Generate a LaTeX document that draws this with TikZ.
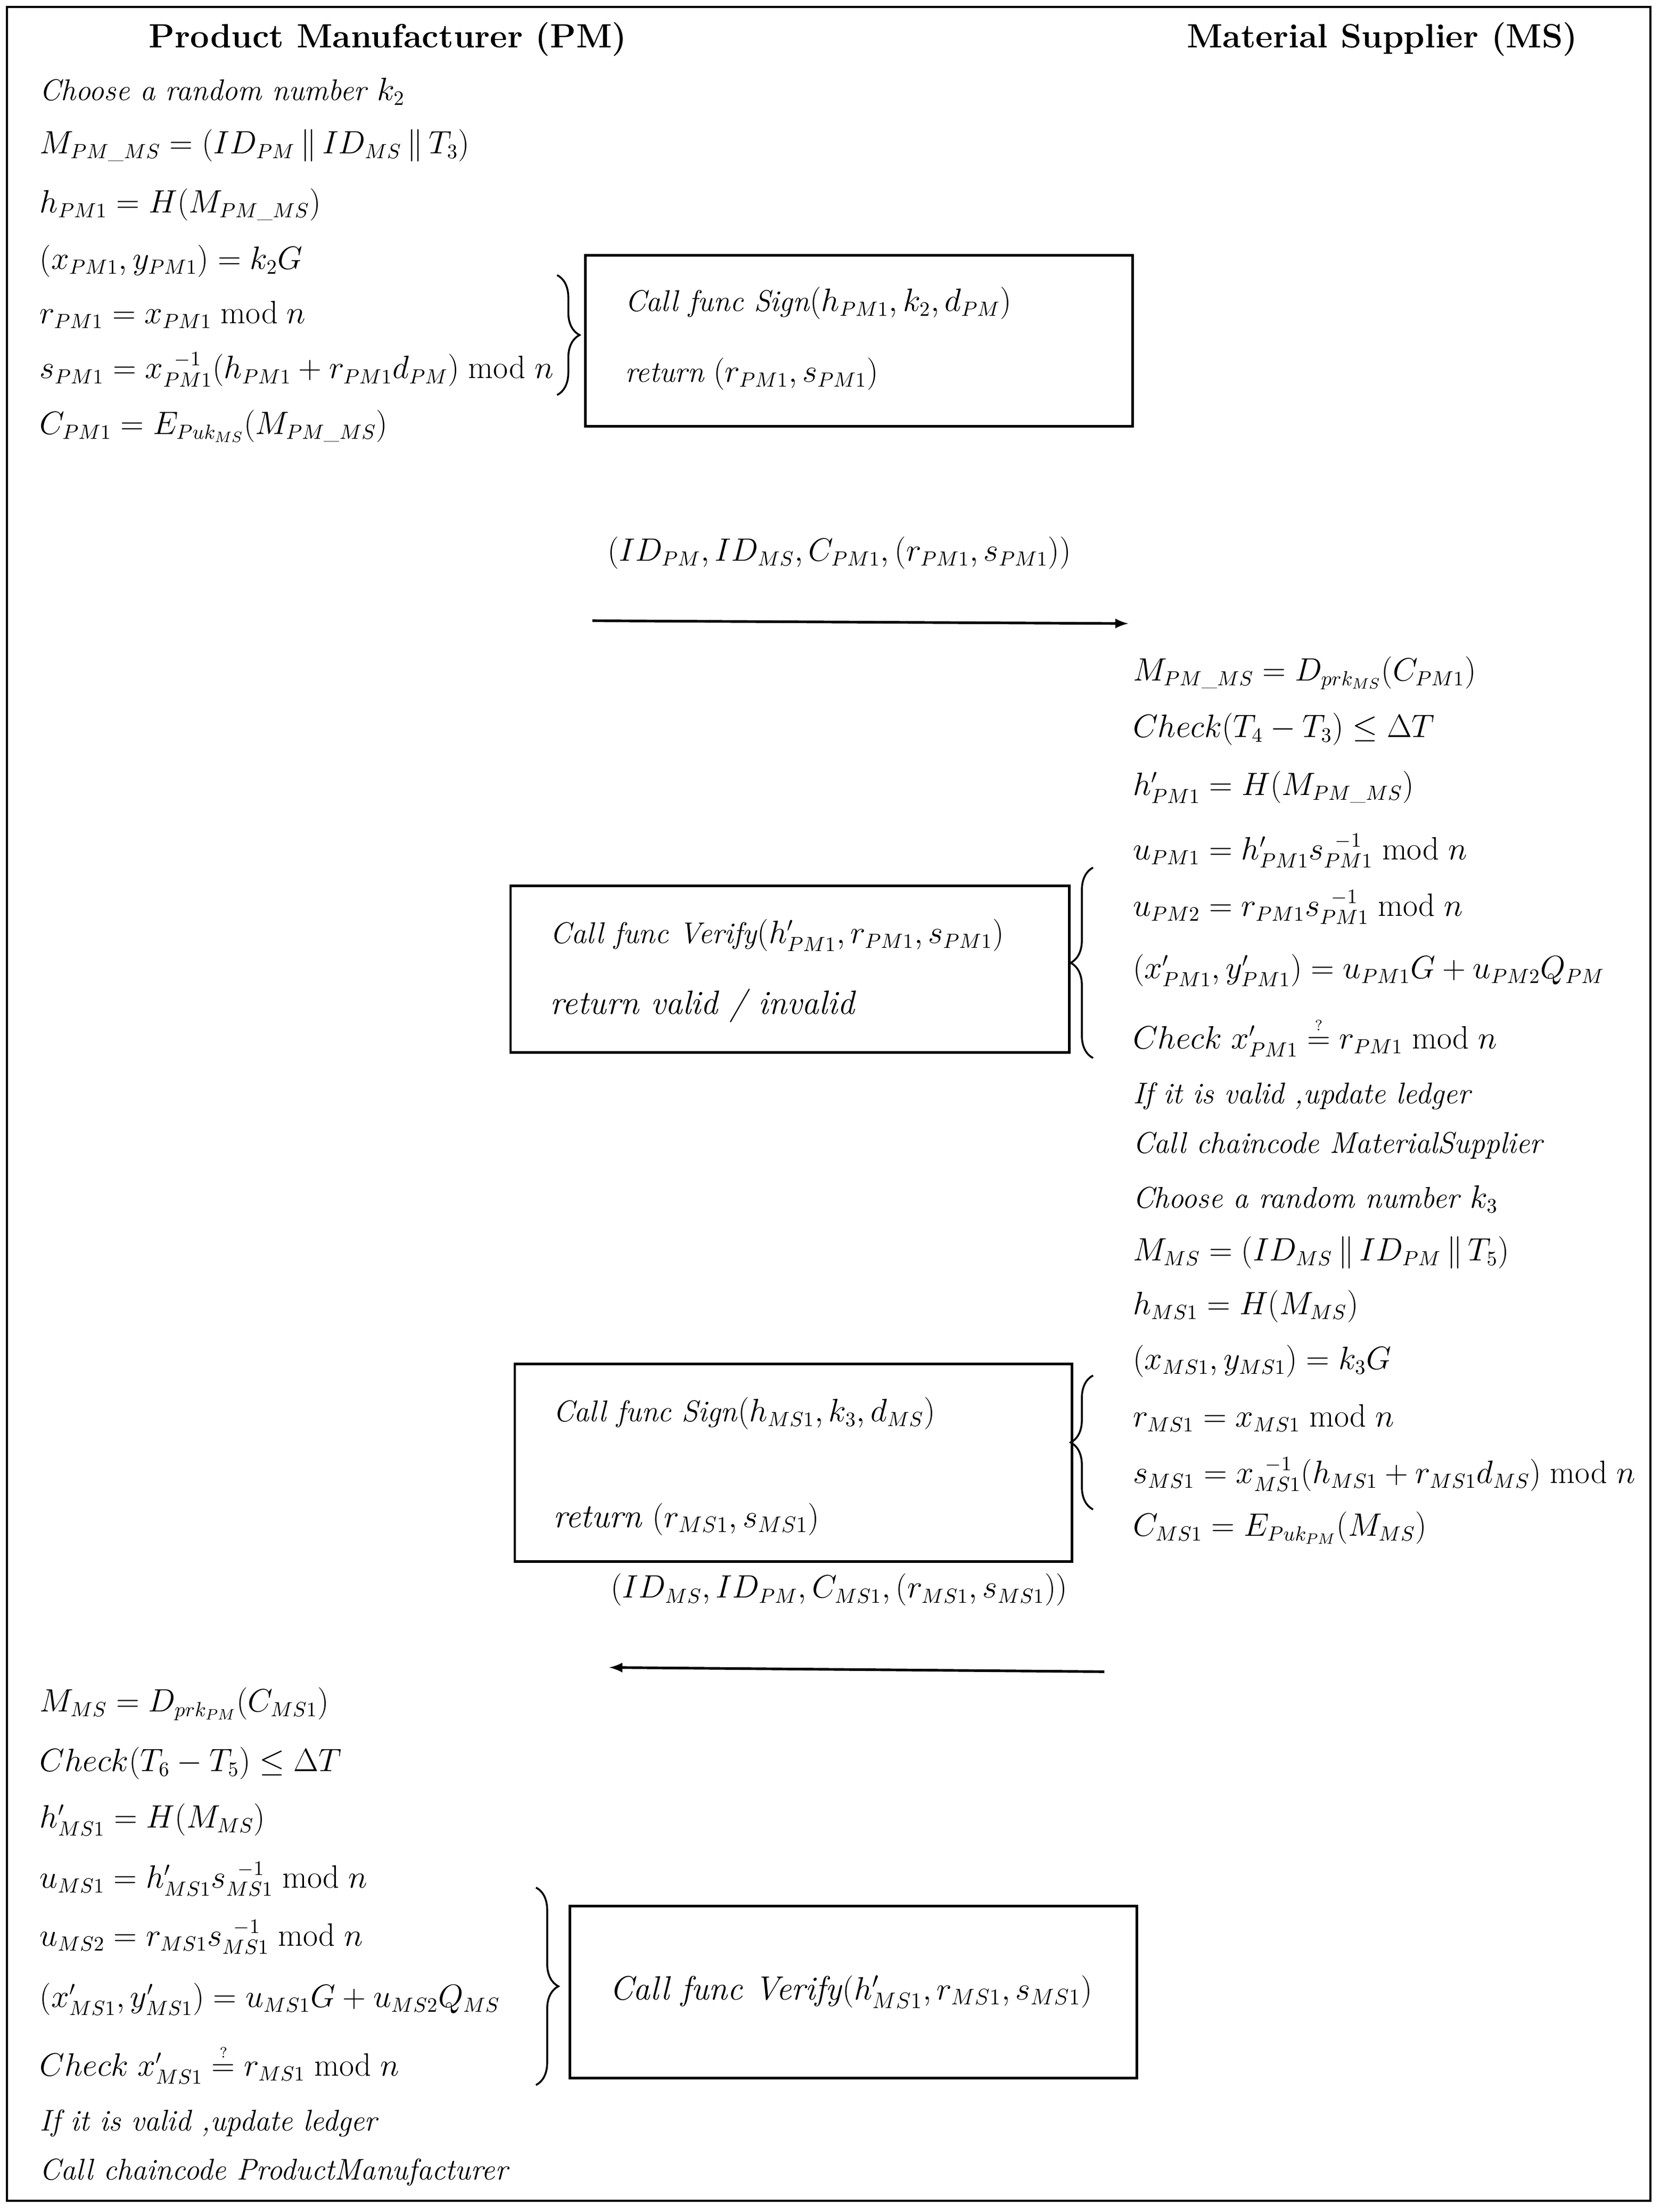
\documentclass[tikz,border=0pt]{standalone}
\usepackage{amsmath}
\usetikzlibrary{decorations.pathreplacing}
\begin{document}
\begin{tikzpicture}[x=0.0265cm,y=-0.0265cm,
  t/.style={anchor=west,inner sep=0pt,font=\fontsize{16}{19}\selectfont},
  h/.style={anchor=center,inner sep=0pt,font=\fontsize{18}{21}\selectfont\bfseries},
  bx/.style={draw,line width=1.4pt},
  br/.style={decorate,decoration={brace,amplitude=12pt},line width=1pt},
  ar/.style={-latex,line width=1.4pt}]
\useasboundingbox (0,0) rectangle (1189,1568);
\draw[line width=1.2pt] (5,5) rectangle (1170,1560);
\node[h] (pm) at (275,28) {Product Manufacturer (PM)};
\node[h] (ms) at (980,28) {Material Supplier (MS)};
% left top
\node[t] (l1) at (28,65) {\textit{Choose a random number} $k_2$};
\node[t] (l2) at (28,103) {$M_{PM\_MS}=(ID_{PM}\,\|\,ID_{MS}\,\|\,T_3)$};
\node[t] (l3) at (28,145) {$h_{PM1}=H(M_{PM\_MS})$};
\node[t] (l4) at (28,185) {$(x_{PM1},y_{PM1})=k_2G$};
\node[t] (l5) at (28,223) {$r_{PM1}=x_{PM1}\bmod n$};
\node[t] (l6) at (28,262) {$s_{PM1}=x_{PM1}^{\;\;-1}(h_{PM1}+r_{PM1}d_{PM})\bmod n$};
\node[t] (l7) at (28,302) {$C_{PM1}=E_{Puk_{MS}}(M_{PM\_MS})$};
\draw[br] (395,195) -- (395,280);
\draw[bx] (415,181) rectangle (803,302);
\node[t] (s1a) at (443,215) {\textit{Call func Sign}$(h_{PM1},k_2,d_{PM})$};
\node[t] (s1b) at (443,265) {\textit{return} $(r_{PM1},s_{PM1})$};
% message 1
\node[t,anchor=center] (m1) at (595,392) {$(ID_{PM},ID_{MS},C_{PM1},(r_{PM1},s_{PM1}))$};
\coordinate (a1) at (420,440); \coordinate (b1) at (800,442);
\draw[ar] (a1) -- (b1);
% right
\node[t] (r1) at (803,477) {$M_{PM\_MS}=D_{prk_{MS}}(C_{PM1})$};
\node[t] (r2) at (803,517) {$Check(T_4-T_3)\le\Delta T$};
\node[t] (r3) at (803,558) {$h_{PM1}'=H(M_{PM\_MS})$};
\node[t] (r4) at (803,603) {$u_{PM1}=h_{PM1}'s_{PM1}^{\;\;-1}\bmod n$};
\node[t] (r5) at (803,643) {$u_{PM2}=r_{PM1}s_{PM1}^{\;\;-1}\bmod n$};
\node[t] (r6) at (803,688) {$(x_{PM1}',y_{PM1}')=u_{PM1}G+u_{PM2}Q_{PM}$};
\node[t] (r7) at (803,735) {$Check\ x_{PM1}'\stackrel{\scriptscriptstyle ?}{=}r_{PM1}\bmod n$};
\node[t] (r8) at (803,777) {\textit{If it is valid ,update ledger}};
\node[t] (r9) at (803,812) {\textit{Call chaincode MaterialSupplier}};
\node[t] (r10) at (803,850) {\textit{Choose a random number} $k_3$};
\node[t] (r11) at (803,888) {$M_{MS}=(ID_{MS}\,\|\,ID_{PM}\,\|\,T_5)$};
\node[t] (r12) at (803,926) {$h_{MS1}=H(M_{MS})$};
\node[t] (r13) at (803,965) {$(x_{MS1},y_{MS1})=k_3G$};
\node[t] (r14) at (803,1005) {$r_{MS1}=x_{MS1}\bmod n$};
\node[t] (r15) at (803,1045) {$s_{MS1}=x_{MS1}^{\;\;-1}(h_{MS1}+r_{MS1}d_{MS})\bmod n$};
\node[t] (r16) at (803,1083) {$C_{MS1}=E_{Puk_{PM}}(M_{MS})$};
\draw[br] (775,750) -- (775,615);
\draw[bx] (362,628) rectangle (758,746);
\node[t] (v1a) at (390,663) {\textit{Call func Verify}$(h_{PM1}',r_{PM1},s_{PM1})$};
\node[t] (v1b) at (390,713) {\fontsize{18}{21}\selectfont\textit{return valid / invalid}};
\draw[br] (775,1070) -- (775,975);
\draw[bx] (365,967) rectangle (760,1107);
\node[t] (s2a) at (392,1002) {\textit{Call func Sign}$(h_{MS1},k_3,d_{MS})$};
\node[t] (s2b) at (392,1077) {\fontsize{18}{21}\selectfont\textit{return} $(r_{MS1},s_{MS1})$};
% message 2
\node[t,anchor=center] (m2) at (595,1127) {$(ID_{MS},ID_{PM},C_{MS1},(r_{MS1},s_{MS1}))$};
\coordinate (a2) at (783,1185); \coordinate (b2) at (432,1182);
\draw[ar] (a2) -- (b2);
% left bottom
\node[t] (p1) at (28,1208) {$M_{MS}=D_{prk_{PM}}(C_{MS1})$};
\node[t] (p2) at (28,1250) {$Check(T_6-T_5)\le\Delta T$};
\node[t] (p3) at (28,1290) {$h_{MS1}'=H(M_{MS})$};
\node[t] (p4) at (28,1332) {$u_{MS1}=h_{MS1}'s_{MS1}^{\;\;-1}\bmod n$};
\node[t] (p5) at (28,1373) {$u_{MS2}=r_{MS1}s_{MS1}^{\;\;-1}\bmod n$};
\node[t] (p6) at (28,1417) {$(x_{MS1}',y_{MS1}')=u_{MS1}G+u_{MS2}Q_{MS}$};
\node[t] (p7) at (28,1463) {$Check\ x_{MS1}'\stackrel{\scriptscriptstyle ?}{=}r_{MS1}\bmod n$};
\node[t] (p8) at (28,1505) {\textit{If it is valid ,update ledger}};
\node[t] (p9) at (28,1540) {\textit{Call chaincode ProductManufacturer}};
\draw[br] (380,1338) -- (380,1478);
\draw[bx] (404,1351) rectangle (806,1473);
\node[t] (v2) at (432,1412) {\fontsize{18}{21}\selectfont\textit{Call func Verify}$(h_{MS1}',r_{MS1},s_{MS1})$};
\end{tikzpicture}
\end{document}
